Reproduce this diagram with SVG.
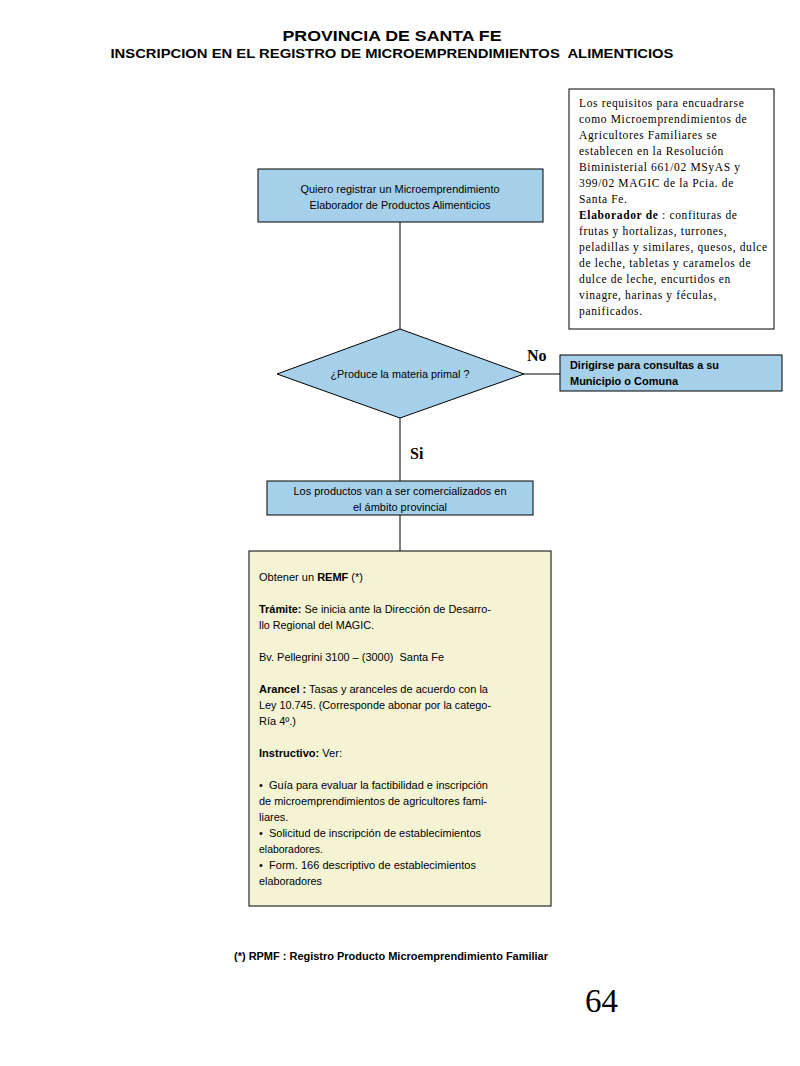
<svg xmlns="http://www.w3.org/2000/svg" width="800" height="1066" viewBox="0 0 800 1066">
<style>
.s{font-family:"Liberation Sans",Arial,sans-serif;fill:#000}
.sf{font-family:"Liberation Serif","Times New Roman",serif;fill:#000}
.blue{fill:#a6d0ea;stroke:#000;stroke-width:1}
.t11{font-size:11px}
.b{font-weight:bold}
.ln{stroke:#000;stroke-width:1;fill:none}
</style>
<rect width="800" height="1066" fill="#fff"/>
<g id="title">
<text class="s b" x="392" y="41" font-size="15" text-anchor="middle" textLength="219" lengthAdjust="spacingAndGlyphs">PROVINCIA DE SANTA FE</text>
<text class="s b" x="392" y="58" font-size="13" text-anchor="middle" textLength="563" lengthAdjust="spacingAndGlyphs" xml:space="preserve">INSCRIPCION EN EL REGISTRO DE MICROEMPRENDIMIENTOS  ALIMENTICIOS</text>
</g>
<g id="note">
<rect x="569" y="89" width="205" height="240" fill="#fff" stroke="#000"/>
<text class="sf" font-size="11.5" letter-spacing="0.65">
<tspan x="579" y="107">Los requisitos para encuadrarse</tspan>
<tspan x="579" y="123">como Microemprendimientos de</tspan>
<tspan x="579" y="139">Agricultores Familiares se</tspan>
<tspan x="579" y="155">establecen en la Resolución</tspan>
<tspan x="579" y="171">Biministerial 661/02 MSyAS y</tspan>
<tspan x="579" y="187">399/02 MAGIC de la Pcia. de</tspan>
<tspan x="579" y="203">Santa Fe.</tspan>
<tspan x="579" y="219" font-weight="bold">Elaborador de</tspan><tspan> : confituras de</tspan>
<tspan x="579" y="235">frutas y hortalizas, turrones,</tspan>
<tspan x="579" y="251">peladillas y similares, quesos, dulce</tspan>
<tspan x="579" y="267">de leche, tabletas y caramelos de</tspan>
<tspan x="579" y="283">dulce de leche, encurtidos en</tspan>
<tspan x="579" y="299">vinagre, harinas y féculas,</tspan>
<tspan x="579" y="315">panificados.</tspan>
</text>
</g>
<g id="connectors">
<line class="ln" x1="400" y1="222" x2="400" y2="329"/>
<line class="ln" x1="524" y1="374" x2="560" y2="374"/>
<line class="ln" x1="400" y1="418" x2="400" y2="481"/>
<line class="ln" x1="400" y1="515" x2="400" y2="551"/>
<text class="sf b" x="527" y="361" font-size="16">No</text>
<text class="sf b" x="410" y="459" font-size="16">Si</text>
</g>
<g id="start">
<rect class="blue" x="258" y="169" width="285" height="53"/>
<text class="s t11" x="400" y="193" text-anchor="middle" textLength="199" lengthAdjust="spacingAndGlyphs">Quiero registrar un Microemprendimiento</text>
<text class="s t11" x="400" y="209" text-anchor="middle" textLength="181" lengthAdjust="spacingAndGlyphs">Elaborador de Productos Alimenticios</text>
</g>
<g id="decision">
<polygon class="blue" points="400,329 524,374 400,418 277,374"/>
<text class="s t11" x="400" y="378" text-anchor="middle" textLength="139" lengthAdjust="spacingAndGlyphs">¿Produce la materia primal ?</text>
</g>
<g id="no-box">
<rect class="blue" x="560" y="355" width="222" height="36"/>
<text class="s t11 b" x="570" y="369" textLength="149" lengthAdjust="spacingAndGlyphs">Dirigirse para consultas a su</text>
<text class="s t11 b" x="570" y="385" textLength="108" lengthAdjust="spacingAndGlyphs">Municipio o Comuna</text>
</g>
<g id="provincial">
<rect class="blue" x="267" y="481" width="266" height="34"/>
<text class="s t11" x="400" y="495" text-anchor="middle" textLength="213" lengthAdjust="spacingAndGlyphs">Los productos van a ser comercializados en</text>
<text class="s t11" x="400" y="511" text-anchor="middle" textLength="94" lengthAdjust="spacingAndGlyphs">el ámbito provincial</text>
</g>
<g id="remf">
<rect x="249" y="551" width="302" height="355" fill="#f4f4d4" stroke="#000"/>
<g class="s t11">
<text x="259" y="581" textLength="104" lengthAdjust="spacingAndGlyphs">Obtener un <tspan font-weight="bold">REMF</tspan> (*)</text>
<text x="259" y="613" textLength="232" lengthAdjust="spacingAndGlyphs"><tspan font-weight="bold">Trámite:</tspan> Se inicia ante la Dirección de Desarro-</text>
<text x="259" y="629" textLength="115" lengthAdjust="spacingAndGlyphs">llo Regional del MAGIC.</text>
<text x="259" y="661" textLength="185" lengthAdjust="spacingAndGlyphs" xml:space="preserve">Bv. Pellegrini 3100 – (3000)  Santa Fe</text>
<text x="259" y="693" textLength="229" lengthAdjust="spacingAndGlyphs"><tspan font-weight="bold">Arancel :</tspan> Tasas y aranceles de acuerdo con la</text>
<text x="259" y="709" textLength="232" lengthAdjust="spacingAndGlyphs">Ley 10.745. (Corresponde abonar por la catego-</text>
<text x="259" y="725">Ría 4º.)</text>
<text x="259" y="757" textLength="83" lengthAdjust="spacingAndGlyphs"><tspan font-weight="bold">Instructivo:</tspan> Ver:</text>
<text x="259" y="789" textLength="229" lengthAdjust="spacingAndGlyphs" xml:space="preserve">•  Guía para evaluar la factibilidad e inscripción</text>
<text x="259" y="805" textLength="228" lengthAdjust="spacingAndGlyphs">de microemprendimientos de agricultores fami-</text>
<text x="259" y="821">liares.</text>
<text x="259" y="837" textLength="222" lengthAdjust="spacingAndGlyphs" xml:space="preserve">•  Solicitud de inscripción de establecimientos</text>
<text x="259" y="853" textLength="64" lengthAdjust="spacingAndGlyphs">elaboradores.</text>
<text x="259" y="869" textLength="217" lengthAdjust="spacingAndGlyphs" xml:space="preserve">•  Form. 166 descriptivo de establecimientos</text>
<text x="259" y="885" textLength="63" lengthAdjust="spacingAndGlyphs">elaboradores</text>
</g>
</g>
<g id="footer">
<text class="s b" x="234" y="960" font-size="10.5" textLength="314" lengthAdjust="spacingAndGlyphs">(*) RPMF : Registro Producto Microemprendimiento Familiar</text>
<text class="sf" x="585" y="1012" font-size="33">64</text>
</g>
</svg>
